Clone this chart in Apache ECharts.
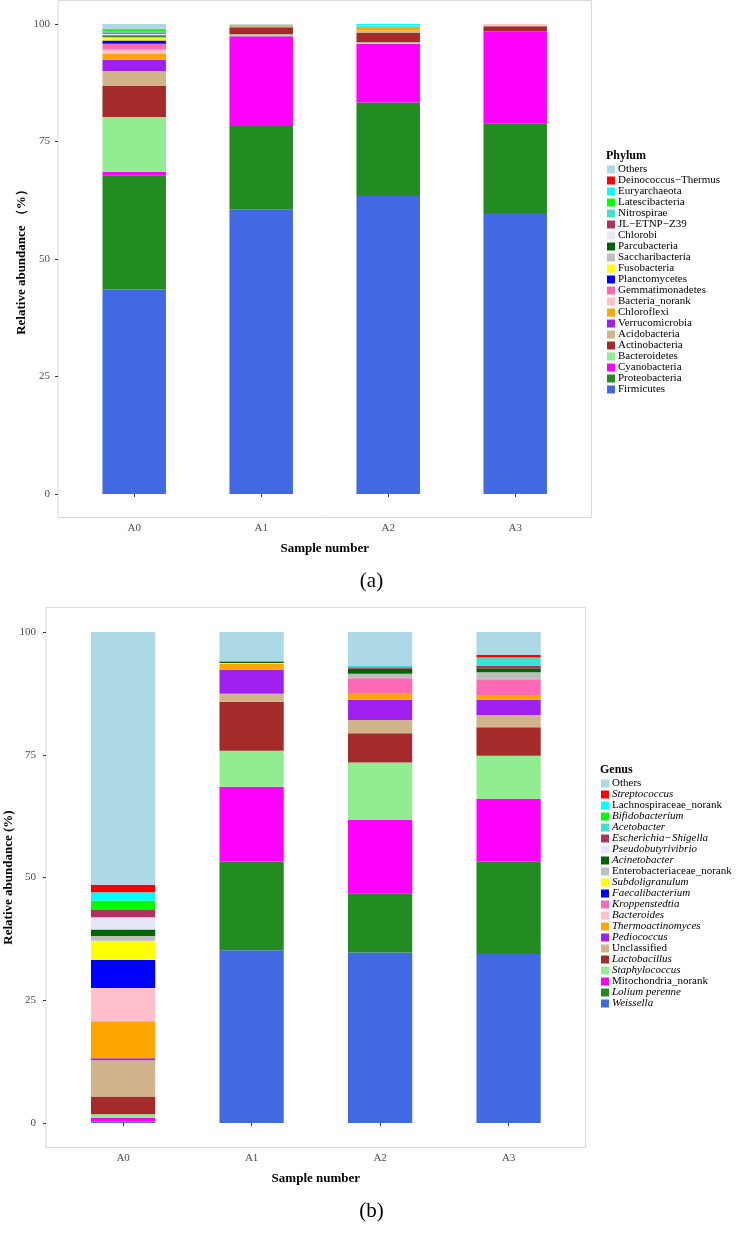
<!DOCTYPE html>
<html>
<head>
<meta charset="utf-8">
<script src="https://cdn.jsdelivr.net/npm/echarts@6/dist/echarts.min.js"></script>
<style>html,body{margin:0;padding:0;background:#fff}#c{width:743px;height:1240px}</style>
</head>
<body>
<div id="c"></div>
<script>
// ---------- DATA ----------
const categories = ['A0', 'A1', 'A2', 'A3'];
const yTicks = [0, 25, 50, 75, 100];

// Phylum names, stacked from bottom to top
const phylumNames = ['Firmicutes', 'Proteobacteria', 'Cyanobacteria', 'Bacteroidetes', 'Actinobacteria',
  'Acidobacteria', 'Verrucomicrobia', 'Chloroflexi', 'Bacteria_norank', 'Gemmatimonadetes',
  'Planctomycetes', 'Fusobacteria', 'Saccharibacteria', 'Parcubacteria', 'Chlorobi',
  'JL\u2212ETNP\u2212Z39', 'Nitrospirae', 'Latescibacteria', 'Euryarchaeota', 'Deinococcus\u2212Thermus', 'Others'];
const phylumA0 = [43.5, 24.3, 0.7, 11.7, 6.6, 3.2, 2.4, 1.3, 0.9, 1.2, 0.7, 0.5, 0.3, 0.3, 0.3, 0.3, 0.2, 0.3, 0.2, 0.1, 1.0];
const phylumA1 = [60.6, 17.7, 19.1, 0.4, 1.5, 0.6, 0, 0, 0, 0, 0, 0, 0, 0, 0, 0, 0, 0, 0, 0, 0.1];
const phylumA2 = [63.4, 19.9, 12.5, 0.3, 2.0, 0.5, 0, 0.8, 0, 0, 0, 0, 0, 0, 0, 0, 0.3, 0, 0.3, 0, 0];
const phylumA3 = [59.8, 19.1, 19.5, 0, 1.1, 0.2, 0, 0, 0.3, 0, 0, 0, 0, 0, 0, 0, 0, 0, 0, 0, 0];

// Genus names, stacked from bottom to top
const genusNames = ['Weissella', 'Lolium perenne', 'Mitochondria_norank', 'Staphylococcus', 'Lactobacillus',
  'Unclassified', 'Pediococcus', 'Thermoactinomyces', 'Bacteroides', 'Kroppenstedtia',
  'Faecalibacterium', 'Subdoligranulum', 'Enterobacteriaceae_norank', 'Acinetobacter', 'Pseudobutyrivibrio',
  'Escherichia\u2212Shigella', 'Acetobacter', 'Bifidobacterium', 'Lachnospiraceae_norank', 'Streptococcus', 'Others'];
const genusUpright = ['Mitochondria_norank', 'Unclassified', 'Enterobacteriaceae_norank', 'Lachnospiraceae_norank', 'Others'];
const genusA0 = [0.2, 0.1, 0.7, 0.8, 3.6, 7.4, 0.4, 7.5, 6.8, 0, 5.7, 3.9, 1.0, 1.3, 2.5, 1.5, 0, 1.9, 1.7, 1.5, 51.5];
const genusA1 = [35.2, 18.0, 15.3, 7.3, 10.0, 1.6, 4.9, 1.2, 0, 0, 0, 0.2, 0, 0.3, 0, 0, 0.1, 0, 0, 0, 5.9];
const genusA2 = [34.7, 12.1, 14.9, 11.7, 6.0, 2.7, 4.1, 1.2, 0, 3.2, 0, 0, 0.9, 1.0, 0, 0.3, 0.3, 0, 0, 0, 6.9];
const genusA3 = [34.4, 18.8, 12.8, 8.8, 5.8, 2.5, 3.1, 0.8, 0, 3.4, 0, 0, 1.4, 0.8, 0, 0.5, 1.7, 0, 0, 0.5, 4.7];

// Colours, bottom to top (shared order for both charts)
const palette = ['#4169E1', '#228B22', '#FF00FF', '#90EE90', '#A52A2A', '#D2B48C', '#A020F0', '#FFA500',
  '#FFC0CB', '#FF69B4', '#0000FF', '#FFFF00', '#BEBEBE', '#006400', '#E6E6FA', '#B03060', '#40E0D0',
  '#00FF00', '#00FFFF', '#FF0000', '#ADD8E6'];

// ---------- LAYOUT ----------
const FONT = 'Liberation Serif';
const A = { panelLeft: 58, catW: 127, plotTop: 24, plotH: 470, labelMargin: 8 };
const B = { panelLeft: 46, catW: 128.5, plotTop: 632, plotH: 491, labelMargin: 10 };
function gridOf(L) {
  return { left: L.panelLeft + 0.1 * L.catW, top: L.plotTop, width: 4 * L.catW, height: L.plotH,
    outerBoundsMode: 'none', containLabel: false };
}
function panelOf(L) {
  const pad = 0.05 * L.plotH;
  return { x: L.panelLeft, y: L.plotTop - pad, width: 4.2 * L.catW, height: L.plotH + 2 * pad };
}
const gA = gridOf(A), gB = gridOf(B), pA = panelOf(A), pB = panelOf(B);

function xAxisOf(idx, L) {
  return {
    type: 'category', gridIndex: idx, data: categories,
    offset: 0.05 * L.plotH,
    axisLine: { show: false },
    axisTick: { show: true, length: 3, alignWithLabel: true, lineStyle: { color: '#333' } },
    axisLabel: { color: '#4d4d4d', fontFamily: FONT, fontSize: 11, margin: 5 },
    name: 'Sample number', nameLocation: 'middle', nameGap: 25, nameMoveOverlap: false,
    nameTextStyle: { fontFamily: FONT, fontWeight: 'bold', fontSize: 13, color: '#000' }
  };
}
function yAxisOf(idx, L, title, gap) {
  return {
    type: 'value', gridIndex: idx, min: 0, max: 100, interval: 25,
    offset: 0.1 * L.catW,
    axisLine: { show: false },
    splitLine: { show: false },
    axisTick: { show: true, length: 3, lineStyle: { color: '#333' } },
    axisLabel: { color: '#4d4d4d', fontFamily: FONT, fontSize: 11, margin: L.labelMargin,
      formatter: v => (yTicks.indexOf(v) >= 0 ? String(v) : '') },
    name: title, nameLocation: 'middle', nameGap: gap, nameRotate: 90, nameMoveOverlap: false,
    nameTextStyle: { fontFamily: FONT, fontWeight: 'bold', fontSize: 13, color: '#000' }
  };
}

const series = [];
phylumNames.forEach((n, i) => {
  series.push({
    type: 'bar', name: n, stack: 'phylum', xAxisIndex: 0, yAxisIndex: 0, barWidth: '50%',
    itemStyle: { color: palette[i] },
    data: [phylumA0[i], phylumA1[i], phylumA2[i], phylumA3[i]]
  });
});
genusNames.forEach((n, i) => {
  series.push({
    type: 'bar', name: n, stack: 'genus', xAxisIndex: 1, yAxisIndex: 1, barWidth: '50%',
    itemStyle: { color: palette[i] },
    data: [genusA0[i], genusA1[i], genusA2[i], genusA3[i]]
  });
});

const legendBase = {
  orient: 'vertical', icon: 'rect', itemWidth: 8, itemHeight: 8, itemGap: 0,
  selectedMode: false, padding: 0,
  textStyle: { fontFamily: FONT, fontSize: 11, color: '#000', padding: [0, 0, 0, -2] }
};

const option = {
  animation: false,
  backgroundColor: '#fff',
  grid: [gA, gB],
  xAxis: [xAxisOf(0, A), xAxisOf(1, B)],
  yAxis: [
    yAxisOf(0, A, 'Relative abundance \uFF08%\uFF09', 30),
    yAxisOf(1, B, 'Relative abundance (%)', 31)
  ],
  legend: [
    Object.assign({}, legendBase, {
      left: 607, top: 164,
      textStyle: Object.assign({}, legendBase.textStyle, { lineHeight: 9.7, height: 9.7 }),
      data: phylumNames.slice().reverse()
    }),
    Object.assign({}, legendBase, {
      left: 601, top: 778,
      textStyle: Object.assign({}, legendBase.textStyle, { lineHeight: 10.17, height: 10.17 }),
      data: genusNames.slice().reverse().map(n => ({
        name: n, textStyle: { fontStyle: genusUpright.indexOf(n) >= 0 ? 'normal' : 'italic' }
      }))
    })
  ],
  title: [
    { text: 'Phylum', left: 606, top: 150, padding: 0,
      textStyle: { fontFamily: FONT, fontWeight: 'bold', fontSize: 12, color: '#000' } },
    { text: 'Genus', left: 600, top: 764, padding: 0,
      textStyle: { fontFamily: FONT, fontWeight: 'bold', fontSize: 12, color: '#000' } },
    { text: '(a)', left: 'center', top: 571, padding: 0,
      textStyle: { fontFamily: FONT, fontWeight: 'normal', fontSize: 21, color: '#000' } },
    { text: '(b)', left: 'center', top: 1201, padding: 0,
      textStyle: { fontFamily: FONT, fontWeight: 'normal', fontSize: 21, color: '#000' } }
  ],
  graphic: [
    { type: 'rect', shape: pA, style: { fill: 'none', stroke: '#d9d9d9', lineWidth: 1 }, z: 0, silent: true },
    { type: 'rect', shape: pB, style: { fill: 'none', stroke: '#d9d9d9', lineWidth: 1 }, z: 0, silent: true }
  ],
  series: series
};

const chart = echarts.init(document.getElementById('c'), null, { renderer: 'canvas' });
chart.setOption(option);
</script>
</body>
</html>
